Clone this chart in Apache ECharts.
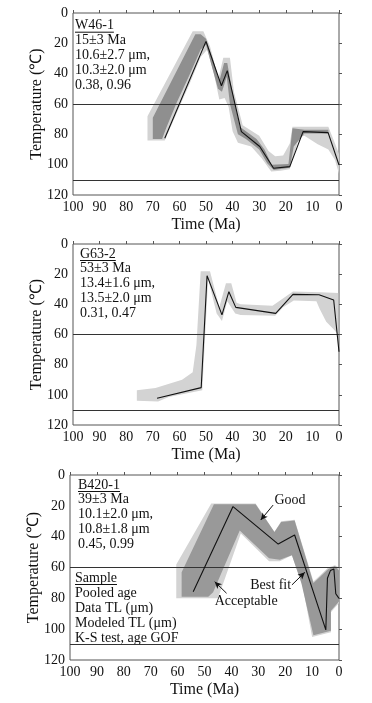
<!DOCTYPE html>
<html><head><meta charset="utf-8">
<script src="https://cdn.jsdelivr.net/npm/echarts@6/dist/echarts.min.js"></script>
<style>html,body{margin:0;padding:0;background:#fff}#c{width:372px;height:703px}</style>
</head><body><div id="c"></div>
<script>
// ---------- data ----------
const timeTicks = [100, 90, 80, 70, 60, 50, 40, 30, 20, 10, 0];
const tempTicks = [0, 20, 40, 60, 80, 100, 120];
const refTemps = [60, 110];

// W46-1
const w46Best = [[65.5,82.6],[50,18.7],[44.2,48],[42,38],[36.7,78.2],[29.8,88],[24.6,102.4],[18.5,101.3],[13.5,78.2],[4.1,78.9],[0,100.2]];
const w46Accept = [[72,84],[72,68],[55,12],[51,12],[48.5,22],[45.3,43],[43.5,29.5],[41,29.5],[39.5,52],[36.2,74],[30,81],[26.5,91],[24,94.5],[21,94],[18.5,86],[17.5,75],[4,75],[1.5,86],[0,93],[0,106],[1.5,97],[4,90],[8,86.5],[13,81],[15,82],[18.5,103],[22,104],[25.5,104.5],[29,96],[33,88],[38,85.5],[40,78],[41.5,62],[43,56],[45,57],[47,40],[49.5,24],[52,29],[56,46],[61,66],[65.5,84]];
const w46Good = [[70,83],[70,69],[54,14],[52,14],[50,17],[47.5,30],[45,45],[43.2,33],[42,33],[40.5,48],[37.3,75],[31,83],[28,90],[25.3,100],[19,99.5],[17.5,76],[13,77],[4,77],[4,79.5],[13,79.5],[17,88],[18.5,102],[24.5,103.5],[27,99],[30,90],[35,83],[38,80],[41,60],[42.2,42],[44,52],[45.5,50],[48,34],[50,21],[52,24],[56,40],[61,59],[65,76],[66.5,83]];
const w46Info = ['W46-1', '15±3 Ma', '10.6±2.7 μm,', '10.3±2.0 μm', '0.38, 0.96'];

// G63-2
const g63Best = [[68.4,102.3],[51.8,95.2],[49.6,21],[44,47],[41.4,31.6],[38.8,42],[23.8,46],[17.3,33.4],[7.5,33.6],[2,37.1],[0,71.4]];
const g63Accept = [[76,104],[76,97],[69,95.5],[59,90],[55,85],[53.6,67],[52,18],[48.5,18],[45,42],[42.5,26],[40.5,26],[38.5,39],[37,40],[25,41],[17.3,31.5],[7,32],[0.3,32.5],[0.3,60],[2.3,56],[4.8,51.5],[7.3,43],[8.5,38],[17,37.5],[21,42],[24,47.5],[37,47],[39,46],[42,38],[44,51],[46,46],[49.2,23],[50.3,60],[51.4,97],[64,101.5],[68,104.5]];
const g63Good = [];
const g63Info = ['G63-2', '53±3 Ma', '13.4±1.6 μm,', '13.5±2.0 μm', '0.31, 0.47'];

// B420-1
const b420Best = [[54.2,75.7],[39.4,20.5],[22.6,44.8],[16.5,38.9],[4.9,100.5],[4.3,67],[3.2,62],[1.9,61],[1.2,77],[0,80]];
const b420Accept = [[60.5,80],[60.5,58],[47.5,18.5],[31,18.5],[24,37],[21.5,30],[16.5,29],[9.5,69],[7,65],[4,60],[1.5,58.5],[0,60],[0,83],[3,89],[3,102],[10,105],[13.5,72],[17.5,52],[22,56],[26,56],[36.5,38],[45,80]];
const b420Good = [[58.5,79],[58.5,63],[46.5,19],[31,19],[24,37],[21.5,30.5],[16.5,29.5],[9.5,70],[7,66],[4,61],[1.5,59],[0,62],[0,82],[3,88],[3,101],[9.5,104],[14,70],[17.5,52],[22,55],[26,54],[36.9,36],[46.8,76],[48.6,79]];
const b420Info = ['B420-1', '39±3 Ma', '10.1±2.0 μm,', '10.8±1.8 μm', '0.45, 0.99'];
const legendInfo = ['Sample', 'Pooled age', 'Data TL (μm)', 'Modeled TL (μm)', 'K-S test, age GOF'];

// annotations (panel 3): label, label anchor [time,temp], arrow tail, arrow head
const annGood = {text: 'Good', at: [24.0, 16.2], align: 'left', from: [24.5, 19.5], to: [29.1, 29.2]};
const annBest = {text: 'Best fit', at: [17.8, 71.3], align: 'right', from: [17.5, 71.3], to: [12.7, 63.1]};
const annAcc = {text: 'Acceptable', at: [34.5, 82.2], align: 'center', from: [41.8, 76.7], to: [46.2, 69.2]};

// ---------- layout ----------
const FONT = '"Liberation Serif","Times New Roman",serif';
const grids = [
  {left: 73, top: 13, width: 266, height: 182},
  {left: 73, top: 244, width: 266, height: 181},
  {left: 70, top: 475, width: 269, height: 185}
];
const panels = [
  {best: w46Best, accept: w46Accept, good: w46Good},
  {best: g63Best, accept: g63Accept, good: g63Good},
  {best: b420Best, accept: b420Accept, good: b420Good}
];
const LIGHT = '#d3d3d3', DARK = '#8f8f8f', DARK3 = '#999999';

function polySeries(idx, poly, color, z) {
  return {
    type: 'custom', xAxisIndex: idx, yAxisIndex: idx, z: z, silent: true, clip: true,
    data: [[50, 50]],
    renderItem: function (params, api) {
      if (!poly.length) return null;
      return {type: 'polygon', shape: {points: poly.map(p => api.coord(p))}, style: {fill: color}};
    }
  };
}

const series = [];
panels.forEach((p, i) => {
  series.push(polySeries(i, p.accept, LIGHT, 1));
  series.push(polySeries(i, p.good, i === 2 ? DARK3 : DARK, 2));
  const s = {
    type: 'line', xAxisIndex: i, yAxisIndex: i, data: p.best, symbol: 'none', z: 5,
    lineStyle: {color: '#111', width: 1.1}, silent: true,
    markLine: {
      silent: true, symbol: 'none', animation: false, label: {show: false},
      lineStyle: {color: '#333', width: 1.2, type: 'solid'},
      data: refTemps.map(t => ({yAxis: t}))
    }
  };
  if (i === 2) {
    s.markLine.data = s.markLine.data.concat([annGood, annBest, annAcc].map(a => [
      {coord: a.from, symbol: 'none', lineStyle: {color: '#111', width: 1}},
      {coord: a.to, symbol: 'arrow', symbolSize: [5, 7]}
    ]));
  }
  series.push(s);
});

const option = {
  animation: false,
  grid: grids.map(g => Object.assign({show: true, borderColor: '#555', borderWidth: 1, containLabel: false}, g)),
  xAxis: grids.map((g, i) => ({
    gridIndex: i, type: 'value', inverse: true, min: timeTicks[timeTicks.length - 1], max: timeTicks[0], interval: 10,
    name: 'Time (Ma)', nameLocation: 'middle', nameGap: 22, nameMoveOverlap: false,
    nameTextStyle: {fontFamily: FONT, fontSize: 16, color: '#111'},
    axisLine: {show: false}, axisTick: {inside: true, length: 3, lineStyle: {color: '#555'}},
    axisLabel: {margin: 5, fontFamily: FONT, fontSize: 14, color: '#111'},
    splitLine: {show: false}
  })),
  yAxis: grids.map((g, i) => ({
    gridIndex: i, type: 'value', inverse: true, min: tempTicks[0], max: tempTicks[tempTicks.length - 1], interval: 20,
    name: 'Temperature (℃)', nameLocation: 'middle', nameGap: 28, nameMoveOverlap: false,
    nameTextStyle: {fontFamily: FONT, fontSize: 16, color: '#111'},
    axisLine: {show: false}, axisTick: {inside: true, length: 3, lineStyle: {color: '#555'}},
    axisLabel: {margin: 5, fontFamily: FONT, fontSize: 14, color: '#111'},
    splitLine: {show: false}
  })),
  series: series
};

const chart = echarts.init(document.getElementById('c'), null, {renderer: 'canvas'});
chart.setOption(option);

// ---------- text blocks ----------
const ctx = document.createElement('canvas').getContext('2d');
ctx.font = '14px ' + FONT;
const graphics = [];
function textBlock(lines, x, y0, step, underlineFirst) {
  lines.forEach((t, k) => {
    const y = y0 + k * step;
    graphics.push({type: 'text', left: x, top: y - 8, silent: true,
      style: {text: t, font: '14px ' + FONT, fill: '#111'}});
    if (k === 0 && underlineFirst) {
      const w = ctx.measureText(t).width;
      graphics.push({type: 'line', silent: true, shape: {x1: x, y1: y + 5.5, x2: x + w, y2: y + 5.5},
        style: {stroke: '#111', lineWidth: 1}});
    }
  });
}
textBlock(w46Info, 75, 26.7, 14.8, true);
textBlock(g63Info, 80, 255, 14.8, true);
textBlock(b420Info, 78, 486, 14.8, true);
textBlock(legendInfo, 75, 579, 15, true);

[annGood, annBest, annAcc].forEach(a => {
  const p = chart.convertToPixel({gridIndex: 2}, a.at);
  graphics.push({type: 'text', x: p[0], y: p[1], silent: true,
    style: {text: a.text, font: '14px ' + FONT, fill: '#111', align: a.align, verticalAlign: 'middle'}});
});
chart.setOption({graphic: graphics});
</script></body></html>
